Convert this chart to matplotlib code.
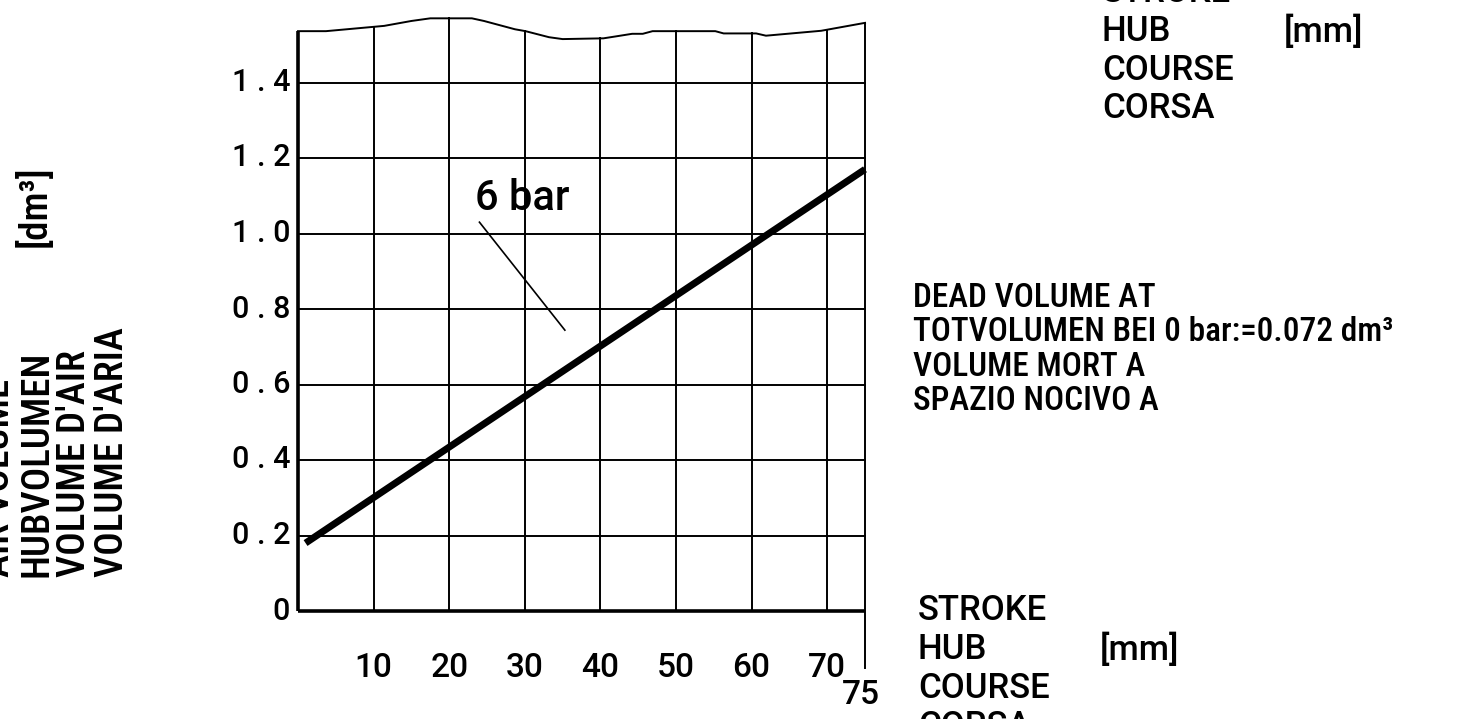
import numpy as np
import matplotlib
matplotlib.use("Agg")
import matplotlib.pyplot as plt

# ---- data ----
stroke = [1.0, 75.0]            # mm
volume = [0.18, 1.17]           # dm3 at 6 bar
curve_label = "6 bar"

x_ticks = [10, 20, 30, 40, 50, 60, 70]
x_tick_labels = ["10", "20", "30", "40", "50", "60", "70"]
x_end = 75
y_ticks = [0, 0.2, 0.4, 0.6, 0.8, 1.0, 1.2, 1.4]
y_tick_labels = ["0", "0 . 2", "0 . 4", "0 . 6", "0 . 8", "1 . 0", "1 . 2", "1 . 4"]

# wavy (torn-paper) upper border of the grid
top_x = [0, 3.7, 11.4, 15.0, 17.5, 23.0, 24.6, 28.7, 30.1, 33.2, 35.0, 40.4,
         42.0, 44.2, 45.6, 46.9, 55.2, 56.3, 60.6, 61.9, 69.2, 75]
top_y = [1.536, 1.536, 1.550, 1.563, 1.570, 1.570, 1.563, 1.541, 1.536, 1.520,
         1.515, 1.517, 1.522, 1.529, 1.529, 1.536, 1.536, 1.530, 1.530, 1.524,
         1.537, 1.558]

y_label_lines = ["AIR VOLUME", "HUBVOLUMEN", "VOLUME D'AIR", "VOLUME D'ARIA"]
y_unit = "[dm³]"
x_label_lines = ["STROKE", "HUB", "COURSE", "CORSA"]
x_unit = "[mm]"
dead_lines = ["DEAD VOLUME AT", "TOTVOLUMEN BEI 0 bar:=0.072 dm³",
              "VOLUME MORT A", "SPAZIO NOCIVO A"]

# ---- figure ----
W, H = 1464, 719
fig = plt.figure(figsize=(W / 100, H / 100), dpi=100)
fig.patch.set_facecolor("white")

def fx(px):
    return px / W

def fy(py):
    return 1 - py / H

ax_left, ax_right, ax_bottom = 298, 865, 611
ppu_y = 377.5
ymax = 1.6
ax = fig.add_axes([fx(ax_left), fy(ax_bottom), (ax_right - ax_left) / W, ymax * ppu_y / H])
ax.set_xlim(0, x_end)
ax.set_ylim(0, ymax)
ax.axis("off")

NARROW = ["Roboto Condensed", "DejaVu Sans"]
REG = ["Roboto", "DejaVu Sans"]
WT = 500
k = "black"
thin = 1.4

# grid
for x in x_ticks:
    ax.plot([x, x], [0, np.interp(x, top_x, top_y)], color=k, lw=thin, clip_on=False)
for y in y_ticks[1:]:
    ax.plot([0, x_end], [y, y], color=k, lw=thin, clip_on=False)
ax.plot(top_x, top_y, color=k, lw=thin, clip_on=False)
ax.plot([0, 0], [0, top_y[0]], color=k, lw=2.6, clip_on=False, solid_capstyle="butt")
ax.plot([0, x_end], [0, 0], color=k, lw=2.6, clip_on=False, solid_capstyle="butt")
ax.plot([x_end, x_end], [-0.151, top_y[-1]], color=k, lw=thin, clip_on=False)

# curve
ax.plot(stroke, volume, color=k, lw=5, solid_capstyle="butt", clip_on=False)
ax.plot([24.0, 35.3], [1.030, 0.744], color=k, lw=1.2)
ax.text(29.6, 1.094, curve_label, ha="center", va="center", fontsize=30,
        family=REG, weight=WT)

# tick labels
for y, lab in zip(y_ticks, y_tick_labels):
    ax.text(-1.05, y, lab, ha="right", va="center", fontsize=22, family=REG,
            weight=WT, clip_on=False)
for x, lab in zip(x_ticks, x_tick_labels):
    ax.text(x, -0.150, lab, ha="center", va="center", fontsize=24, family=REG,
            weight=WT, clip_on=False)
ax.text(74.4, -0.222, str(x_end), ha="center", va="center", fontsize=24, family=REG,
        weight=WT, clip_on=False)

# y axis title (rotated)
for i, line in enumerate(y_label_lines):
    fig.text(fx(-1 + 37.7 * i), fy(577), line, rotation=90, ha="center", va="bottom",
             fontsize=28, family=NARROW, weight=WT)
fig.text(fx(35), fy(247), y_unit, rotation=90, ha="center", va="bottom",
         fontsize=28, family=NARROW, weight=WT)

# x axis title blocks (bottom and top right)
for x0, y0 in [(918, 611), (1102, -7)]:
    for i, line in enumerate(x_label_lines):
        fig.text(fx(x0), fy(y0 + 38.5 * i), line, ha="left", va="center",
                 fontsize=25, family=REG, weight=WT)
    fig.text(fx(x0 + 182), fy(y0 + 38.5), x_unit, ha="left", va="center",
             fontsize=25, family=REG, weight=WT)

# dead volume note
for i, line in enumerate(dead_lines):
    fig.text(fx(913), fy(298 + 34.3 * i), line, ha="left", va="center",
             fontsize=24, family=NARROW, weight=WT)

fig.savefig("out.png", dpi=100, facecolor="white")
